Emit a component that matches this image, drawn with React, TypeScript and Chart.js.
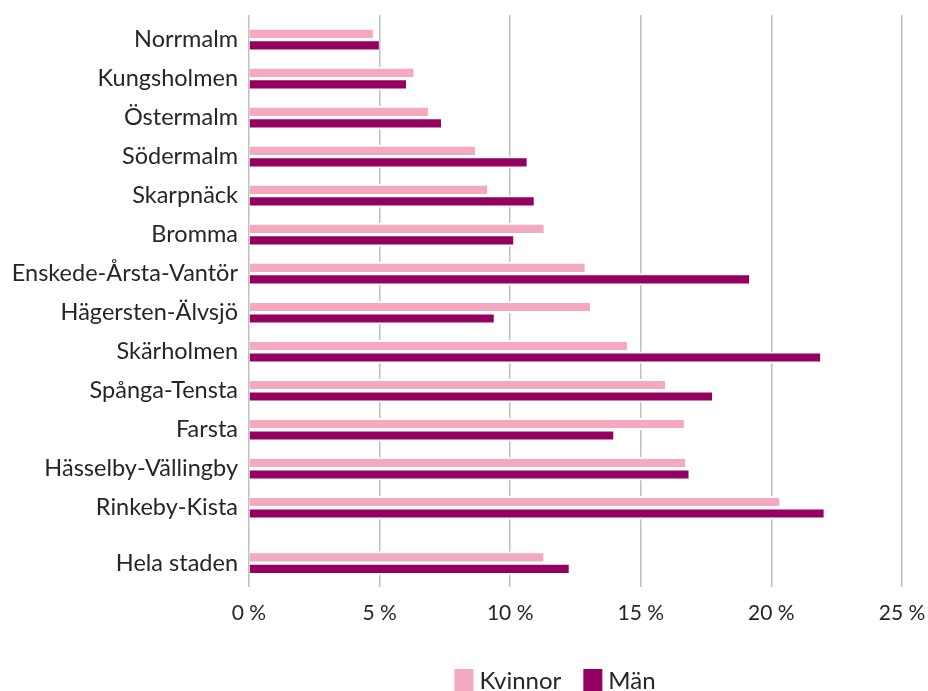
import React, { useEffect, useRef } from "react";
import { Chart, registerables } from "chart.js";
Chart.register(...registerables);

const categories = [
  "Norrmalm",
  "Kungsholmen",
  "Östermalm",
  "Södermalm",
  "Skarpnäck",
  "Bromma",
  "Enskede-Årsta-Vantör",
  "Hägersten-Älvsjö",
  "Skärholmen",
  "Spånga-Tensta",
  "Farsta",
  "Hässelby-Vällingby",
  "Rinkeby-Kista",
  "Hela staden",
];
const rowPositions = [0, 1, 2, 3, 4, 5, 6, 7, 8, 9, 10, 11, 12, 13.42];
const kvinnor = [4.74, 6.3, 6.85, 8.65, 9.12, 11.28, 12.85, 13.06, 14.47, 15.93, 16.65, 16.7, 20.3, 11.27];
const man = [4.97, 6.01, 7.35, 10.63, 10.9, 10.12, 19.15, 9.37, 21.87, 17.73, 13.95, 16.83, 22.0, 12.24];
const xTicks = [0, 5, 10, 15, 20, 25];
const seriesNames = ["Kvinnor", "Män"];
const seriesColors = ["#F4A9BF", "#930060"];

const FONT = "Lato, 'Noto Sans', sans-serif";
const TEXT = "#262626";

const legendPlugin = {
  id: "customLegend",
  afterDraw(chart: any) {
    const ctx = chart.ctx;
    ctx.save();
    ctx.font = `24px ${FONT}`;
    ctx.textBaseline = "alphabetic";
    ctx.textAlign = "left";
    const boxW = 19;
    const boxH = 22;
    const gapBoxText = 6;
    const gapItems = 22;
    const widths = seriesNames.map((n) => boxW + gapBoxText + ctx.measureText(n).width);
    const total = widths.reduce((a, b) => a + b, 0) + gapItems * (seriesNames.length - 1);
    const center = 555;
    let x = center - total / 2;
    const boxTop = 669;
    const baseline = 689;
    seriesNames.forEach((n, i) => {
      ctx.fillStyle = seriesColors[i];
      ctx.fillRect(x, boxTop, boxW, boxH);
      ctx.fillStyle = TEXT;
      ctx.fillText(n, x + boxW + gapBoxText, baseline);
      x += widths[i] + gapItems;
    });
    ctx.restore();
  },
};

export default function App() {
  const canvasRef = useRef<HTMLCanvasElement | null>(null);

  useEffect(() => {
    if (!canvasRef.current) return;
    const mk = (vals: number[]) => vals.map((v, i) => ({ x: v, y: rowPositions[i] }));
    const chart = new Chart(canvasRef.current, {
      type: "bar",
      data: {
        datasets: seriesNames.map((name, i) => ({
          label: name,
          data: mk(i === 0 ? kvinnor : man),
          backgroundColor: seriesColors[i],
          borderColor: "#ffffff",
          borderWidth: { top: 2, bottom: 2, left: 0, right: 0 },
          borderSkipped: false,
          barThickness: 11.5,
        })),
      },
      options: {
        indexAxis: "y",
        animation: false,
        responsive: false,
        maintainAspectRatio: false,
        layout: { padding: { top: 15, right: 26, bottom: 50, left: 0 } },
        plugins: {
          legend: { display: false },
          tooltip: { enabled: false },
        },
        scales: {
          x: {
            type: "linear",
            min: 0,
            max: 25,
            afterBuildTicks: (scale: any) => {
              scale.ticks = xTicks.map((v) => ({ value: v }));
            },
            afterFit: (scale: any) => {
              scale.height = 54;
              scale.paddingRight = 0;
              scale.paddingLeft = 0;
            },
            grid: {
              color: "#BFBFBF",
              lineWidth: 1.5,
              drawTicks: false,
            },
            border: { display: false },
            ticks: {
              padding: 14,
              color: TEXT,
              font: { family: FONT, size: 21 },
              maxRotation: 0,
              callback: (v: any) => `${v} %`,
            },
          },
          y: {
            type: "linear",
            reverse: true,
            offset: false,
            min: -0.63,
            max: 14.03,
            afterBuildTicks: (scale: any) => {
              scale.ticks = rowPositions.map((v) => ({ value: v }));
            },
            afterFit: (scale: any) => {
              scale.width = 249;
              scale.paddingTop = 0;
              scale.paddingBottom = 0;
            },
            grid: { display: false, drawTicks: false, offset: false },
            border: { display: false },
            ticks: {
              padding: 11,
              color: TEXT,
              font: { family: FONT, size: 23.5 },
              autoSkip: false,
              callback: (v: any) => {
                const idx = rowPositions.indexOf(Number(v));
                return idx >= 0 ? categories[idx] : "";
              },
            },
          },
        },
      },
      plugins: [legendPlugin],
    } as any);
    return () => chart.destroy();
  }, []);

  return (
    <div style={{ position: "fixed", left: 0, top: 0, width: 928, height: 691, background: "#fff" }}>
      <canvas ref={canvasRef} width={928} height={691} style={{ width: 928, height: 691 }} />
    </div>
  );
}
